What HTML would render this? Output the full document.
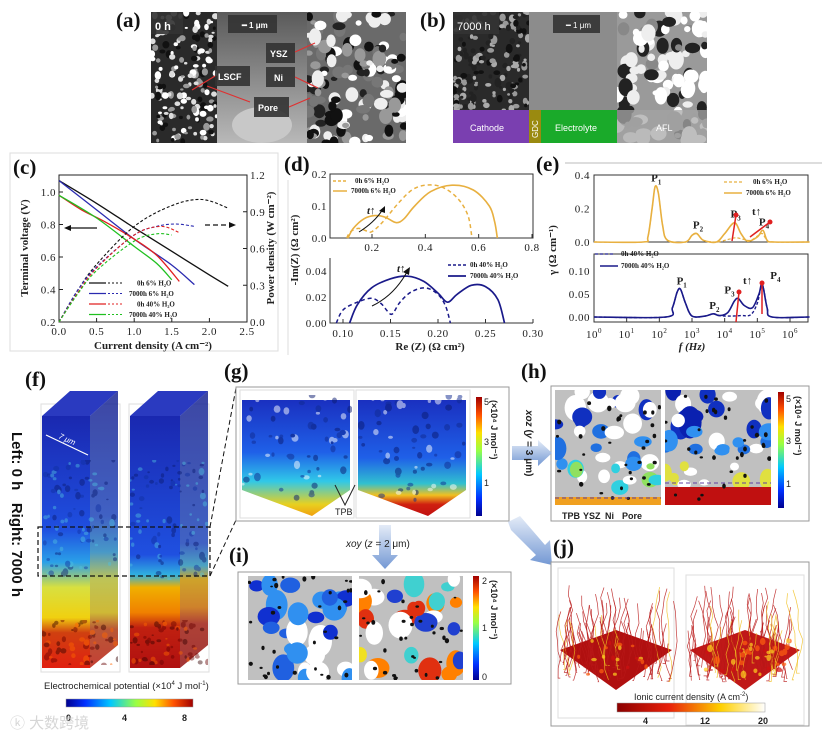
<!DOCTYPE html>
<html><head><meta charset="utf-8">
<style>
html,body{margin:0;padding:0;background:#fff;}
#root{position:relative;width:822px;height:734px;overflow:hidden;background:#fff;}
svg{position:absolute;left:0;top:0;}
text{font-family:"Liberation Serif",serif;}
.lbl{font-family:"Liberation Serif",serif;font-weight:bold;font-size:21px;fill:#111;}
.tk{font-family:"Liberation Serif",serif;font-size:11px;fill:#222;letter-spacing:0.5px;}
.ax{font-family:"Liberation Serif",serif;font-weight:bold;font-size:11px;fill:#222;}
.lg{font-family:"Liberation Serif",serif;font-weight:bold;font-size:7px;fill:#222;}
.sn{font-family:"Liberation Sans",sans-serif;font-size:9px;fill:#222;}
</style></head>
<body>
<div id="root">
<svg id="s" width="822" height="734" viewBox="0 0 822 734">
<defs>
 <linearGradient id="jet" x1="0" x2="1" y1="0" y2="0">
  <stop offset="0" stop-color="#00008f"/><stop offset="0.15" stop-color="#0030ff"/><stop offset="0.35" stop-color="#00c8ff"/><stop offset="0.55" stop-color="#9f4"/><stop offset="0.7" stop-color="#ffe000"/><stop offset="0.85" stop-color="#ff5000"/><stop offset="1" stop-color="#a00000"/>
 </linearGradient>
 <linearGradient id="jetv" x1="0" x2="0" y1="1" y2="0">
  <stop offset="0" stop-color="#00008f"/><stop offset="0.15" stop-color="#0030ff"/><stop offset="0.35" stop-color="#00c8ff"/><stop offset="0.55" stop-color="#9f4"/><stop offset="0.7" stop-color="#ffe000"/><stop offset="0.85" stop-color="#ff5000"/><stop offset="1" stop-color="#a00000"/>
 </linearGradient>
 <linearGradient id="heat" x1="0" x2="1">
  <stop offset="0" stop-color="#8b0000"/><stop offset="0.35" stop-color="#e8200a"/><stop offset="0.7" stop-color="#ffd000"/><stop offset="1" stop-color="#ffffff"/>
 </linearGradient>
 <linearGradient id="fL" x1="0" x2="0" y1="0" y2="1">
  <stop offset="0" stop-color="#1a28b0"/><stop offset="0.45" stop-color="#1f4fe0"/><stop offset="0.58" stop-color="#2aa0e8"/><stop offset="0.68" stop-color="#d8e040"/><stop offset="0.8" stop-color="#f0d010"/><stop offset="0.86" stop-color="#d04010"/><stop offset="1" stop-color="#e02010"/>
 </linearGradient>
 <linearGradient id="fR" x1="0" x2="0" y1="0" y2="1">
  <stop offset="0" stop-color="#1a28b0"/><stop offset="0.55" stop-color="#1f50e0"/><stop offset="0.63" stop-color="#30b0e0"/><stop offset="0.68" stop-color="#f0b000"/><stop offset="0.78" stop-color="#f08000"/><stop offset="0.84" stop-color="#c02010"/><stop offset="1" stop-color="#b01010"/>
 </linearGradient>
 <linearGradient id="gL" x1="0" x2="0" y1="0" y2="1">
  <stop offset="0" stop-color="#1a30c0"/><stop offset="0.45" stop-color="#1f60e8"/><stop offset="0.7" stop-color="#30c8e8"/><stop offset="0.9" stop-color="#e8d020"/><stop offset="1" stop-color="#f0a010"/>
 </linearGradient>
 <linearGradient id="gR" x1="0" x2="0" y1="0" y2="1">
  <stop offset="0" stop-color="#1a30c0"/><stop offset="0.5" stop-color="#1f60e8"/><stop offset="0.72" stop-color="#30c0d0"/><stop offset="0.82" stop-color="#f0c020"/><stop offset="0.9" stop-color="#d02010"/><stop offset="1" stop-color="#c01010"/>
 </linearGradient>
 <linearGradient id="grey" x1="0" x2="0" y1="0" y2="1">
  <stop offset="0" stop-color="#5a5a5a"/><stop offset="0.5" stop-color="#8a8a8a"/><stop offset="1" stop-color="#b8b8b8"/>
 </linearGradient>
 <linearGradient id="arrowg" x1="0" x2="0" y1="0" y2="1">
  <stop offset="0" stop-color="#dfe8f6"/><stop offset="1" stop-color="#5b86cc"/>
 </linearGradient>
</defs>

<text class="lbl" x="116" y="27">(a)</text>
<g id="imgA">
 <rect x="151" y="12" width="255" height="131" fill="url(#grey)"/>
 <rect x="151" y="12" width="66" height="131" fill="#2a2a2a"/>
 <rect x="307" y="12" width="99" height="131" fill="#6a6a6a"/>
</g>
<text class="lbl" x="420" y="27">(b)</text>
<g id="imgB">
 <rect x="453" y="12" width="254" height="131" fill="#8a8a8a"/>
 <rect x="453" y="12" width="76" height="98" fill="#2a2a2a"/>
 <rect x="529" y="12" width="88" height="98" fill="#8c8c8c"/>
 <rect x="617" y="12" width="90" height="98" fill="#9a9a9a"/>
</g>

<rect x="10" y="153" width="268" height="198" fill="none" stroke="#ddd" stroke-width="1"/>
<line x1="565" y1="163" x2="822" y2="163" stroke="#bbb"/>
<line x1="288" y1="180" x2="288" y2="355" stroke="#ddd"/>
<g id="chartC"></g>
<g id="chartD"></g>
<g id="chartE"></g>

<text class="lbl" x="25" y="386">(f)</text>
<g id="panelF"></g>
<text transform="translate(12,432) rotate(90)" style="font-family:'Liberation Sans',sans-serif;font-weight:bold;font-size:15px" fill="#111">Left: 0 h&#160;&#160;&#160;Right: 7000 h</text>
<rect x="38" y="527" width="172" height="49" fill="none" stroke="#111" stroke-dasharray="5,3" stroke-width="1.2"/>
<line x1="210" y1="527" x2="236" y2="388" stroke="#111" stroke-dasharray="5,3"/>
<line x1="210" y1="576" x2="236" y2="520" stroke="#111" stroke-dasharray="5,3"/>
<text x="44" y="689" style="font-family:'Liberation Sans',sans-serif;font-size:9.5px" fill="#222">Electrochemical potential (×10<tspan font-size="6" dy="-4">4</tspan><tspan dy="4"> J mol</tspan><tspan font-size="6" dy="-4">-1</tspan><tspan dy="4">)</tspan></text>
<rect x="66" y="699" width="127" height="8" fill="url(#jet)" stroke="#999" stroke-width="0.5"/>
<text class="sn" x="66" y="721" font-weight="bold">0</text>
<text class="sn" x="122" y="721" font-weight="bold">4</text>
<text class="sn" x="182" y="721" font-weight="bold">8</text>
<text x="10" y="728" style="font-family:'Liberation Sans','Noto Sans CJK SC',sans-serif;font-size:15px" fill="#ccc" opacity="0.8">ⓚ 大数跨境</text>

<text class="lbl" x="224" y="378">(g)</text>
<rect x="236" y="387" width="273" height="134" fill="#fff" stroke="#999"/>
<g id="panelG"></g>

<text class="lbl" x="521" y="378">(h)</text>
<rect x="551" y="386" width="258" height="135" fill="#fff" stroke="#999"/>
<g id="panelH"></g>
<polygon points="512,446 538,446 538,440 552,453 538,466 538,460 512,460" fill="url(#arrowg)" opacity="0.85"/>
<text transform="translate(526,410) rotate(90)" style="font-family:'Liberation Sans',sans-serif;font-size:10px;font-weight:bold" fill="#222"><tspan font-style="italic">xoz</tspan> (<tspan font-style="italic">y</tspan> = 3 μm)</text>
<g>
 <text class="sn" x="562" y="519" font-weight="bold">TPB</text>
 <text class="sn" x="583" y="519" font-weight="bold">YSZ</text>
 <text class="sn" x="605" y="519" font-weight="bold">Ni</text>
 <text class="sn" x="622" y="519" font-weight="bold">Pore</text>
</g>

<text class="lbl" x="229" y="562">(i)</text>
<rect x="238" y="572" width="273" height="112" fill="#fff" stroke="#999"/>
<g id="panelI"></g>
<polygon points="379,525 391,525 391,555 398,555 385,569 372,555 379,555" fill="url(#arrowg)" opacity="0.85"/>
<text x="346" y="547" style="font-family:'Liberation Sans',sans-serif;font-size:10px" fill="#222"><tspan font-style="italic">xoy</tspan> (<tspan font-style="italic">z</tspan> = 2 μm)</text>

<text class="lbl" x="553" y="554">(j)</text>
<polygon points="508,522 520,516 545,545 550,540 552,565 530,560 536,555 511,530" fill="url(#arrowg)" opacity="0.85"/>
<rect x="551" y="562" width="258" height="164" fill="#fff" stroke="#999"/>
<g id="panelJ"></g>
<text x="634" y="700" style="font-family:'Liberation Sans',sans-serif;font-size:9px" fill="#222">Ionic current density (A cm<tspan font-size="6" dy="-4">-2</tspan><tspan dy="4">)</tspan></text>
<rect x="617" y="703" width="148" height="9" fill="url(#heat)" stroke="#999" stroke-width="0.5"/>
<text class="sn" x="643" y="724" font-weight="bold">4</text>
<text class="sn" x="700" y="724" font-weight="bold">12</text>
<text class="sn" x="758" y="724" font-weight="bold">20</text>
</svg>
</div>
<script>
// ---------------- chart data (c) ----------------
const cV_0h6 = [[0,1.07],[0.5,0.93],[1.0,0.78],[1.5,0.635],[2.0,0.49],[2.25,0.42]];
const cV_7k6 = [[0,1.07],[0.5,0.89],[1.0,0.71],[1.5,0.55],[1.8,0.43]];
const cV_0h40 = [[0,0.98],[0.3,0.89],[0.6,0.82],[1.0,0.71],[1.3,0.61],[1.6,0.45]];
const cV_7k40 = [[0,0.98],[0.5,0.84],[1.0,0.665],[1.3,0.56],[1.5,0.46]];
const cP_0h6 = [[0,0],[0.25,0.26],[0.5,0.47],[1.0,0.78],[1.5,0.95],[1.9,1.0],[2.25,0.93]];
const cP_7k6 = [[0,0],[0.25,0.26],[0.5,0.45],[1.0,0.71],[1.3,0.78],[1.55,0.8],[1.8,0.78]];
const cP_0h40 = [[0,0],[0.25,0.24],[0.5,0.44],[1.0,0.71],[1.35,0.78],[1.6,0.73]];
const cP_7k40 = [[0,0],[0.25,0.23],[0.5,0.42],[1.0,0.66],[1.3,0.72],[1.5,0.71]];
const cXTicks = [0,0.5,1.0,1.5,2.0,2.5];
const cVTicks = [0.2,0.4,0.6,0.8,1.0];
const cPTicks = [0.0,0.3,0.6,0.9,1.2];
const cLegend = ["0h 6% H₂O","7000h 6% H₂O","0h 40% H₂O","7000h 40% H₂O"];
const cColors = ["#111","#2a2ab0","#e02020","#20c020"];
// ---------------- chart data (d) ----------------
const dTop_0h = [[0.105,0],[0.12,0.02],[0.15,0.03],[0.18,0.022],[0.2,0.02],[0.24,0.05],[0.3,0.11],[0.35,0.15],[0.4,0.165],[0.46,0.16],[0.52,0.125],[0.56,0.07],[0.575,0]];
const dTop_7k = [[0.11,0],[0.13,0.03],[0.17,0.06],[0.21,0.07],[0.25,0.065],[0.29,0.048],[0.32,0.06],[0.36,0.1],[0.42,0.145],[0.5,0.165],[0.58,0.15],[0.64,0.1],[0.66,0.05],[0.67,0]];
const dBot_0h = [[0.093,0],[0.1,0.01],[0.115,0.016],[0.13,0.019],[0.14,0.015],[0.147,0.009],[0.152,0.007],[0.16,0.016],[0.172,0.024],[0.187,0.027],[0.2,0.022],[0.208,0.013],[0.213,0]];
const dBot_7k = [[0.107,0],[0.115,0.014],[0.13,0.027],[0.15,0.034],[0.168,0.036],[0.185,0.032],[0.2,0.023],[0.21,0.016],[0.22,0.022],[0.235,0.029],[0.25,0.028],[0.263,0.018],[0.27,0]];
const dTopXTicks = [0.2,0.4,0.6,0.8];
const dTopYTicks = [0.0,0.1,0.2];
const dBotXTicks = [0.10,0.15,0.20,0.25,0.30];
const dBotYTicks = [0.00,0.02,0.04];
// ---------------- chart data (e) (x = log10 f) ----------------
const eTop_7k = [[0,0],[1.5,0],[1.65,0.03],[1.78,0.2],[1.87,0.33],[1.97,0.29],[2.1,0.1],[2.25,0.01],[2.8,0],[3.0,0.04],[3.15,0.05],[3.35,0.01],[3.75,0],[4.0,0.05],[4.3,0.115],[4.5,0.05],[4.7,0.005],[5.0,0.03],[5.17,0.07],[5.3,0.01],[5.5,0],[6.6,0]];
const eTop_0h = [[0,0],[1.5,0],[1.65,0.03],[1.78,0.2],[1.87,0.33],[1.97,0.29],[2.1,0.1],[2.25,0.01],[2.8,0],[3.0,0.04],[3.15,0.05],[3.35,0.01],[3.75,0],[4.1,0.015],[4.35,0.025],[4.6,0.015],[4.8,0.01],[5.0,0.035],[5.15,0.05],[5.3,0.01],[5.5,0],[6.6,0]];
const eBot_7k = [[0,0],[2.2,0],[2.4,0.02],[2.55,0.055],[2.65,0.06],[2.8,0.03],[3.0,0.002],[3.4,0.002],[3.65,0.007],[3.85,0.003],[4.1,0.01],[4.3,0.035],[4.42,0.04],[4.6,0.025],[4.85,0.02],[5.05,0.05],[5.15,0.072],[5.3,0.02],[5.45,0],[6.6,0]];
const eBot_0h = [[0,0],[2.2,0],[2.4,0.02],[2.55,0.055],[2.65,0.06],[2.8,0.03],[3.0,0.002],[3.4,0.002],[3.65,0.007],[3.85,0.003],[4.1,0.002],[4.5,0.003],[4.8,0.005],[5.0,0.03],[5.15,0.07],[5.3,0.02],[5.45,0],[6.6,0]];
const eXTicks = [0,1,2,3,4,5,6];
const eTopYTicks = [0.0,0.2,0.4];
const eBotYTicks = [0.00,0.05,0.10];
const ePeaksTop = [["1",1.87,0.33],["2",3.15,0.05],["3",4.3,0.115],["4",5.17,0.07]];
const ePeaksBot = [["1",2.65,0.06],["2",3.65,0.007],["3",4.42,0.04],["4",5.15,0.072]];

const NS="http://www.w3.org/2000/svg";
function mk(parent,tag,attrs){const e=document.createElementNS(NS,tag);for(const k in attrs)e.setAttribute(k,attrs[k]);parent.appendChild(e);return e;}
function lin(d0,d1,r0,r1){return v=>r0+(v-d0)*(r1-r0)/(d1-d0);}
function smooth(pts,sx,sy){
  const p=pts.map(q=>[sx(q[0]),sy(q[1])]);
  let d="M"+p[0][0].toFixed(1)+","+p[0][1].toFixed(1);
  for(let i=0;i<p.length-1;i++){
    const p0=p[i-1]||p[i],p1=p[i],p2=p[i+1],p3=p[i+2]||p2;
    const c1=[p1[0]+(p2[0]-p0[0])/6,p1[1]+(p2[1]-p0[1])/6];
    const c2=[p2[0]-(p3[0]-p1[0])/6,p2[1]-(p3[1]-p1[1])/6];
    d+=" C"+c1.map(v=>v.toFixed(1))+" "+c2.map(v=>v.toFixed(1))+" "+p2[0].toFixed(1)+","+p2[1].toFixed(1);
  }
  return d;
}
function txt(parent,x,y,s,cls,anchor){const t=mk(parent,"text",{x:x,y:y,class:cls,"text-anchor":anchor||"start"});t.textContent=s;return t;}

// ---------- chart (c) ----------
(function(){
 const g=document.getElementById("chartC");
 const X=lin(0,2.5,59,247), V=lin(0.2,1.0,322,192), P=lin(0,1.2,322,175);
 txt(g,13,174,"(c)","lbl");
 const frame=mk(g,"rect",{x:59,y:175,width:188,height:147,fill:"none",stroke:"#222","stroke-width":1});
 
 
 cXTicks.forEach(v=>{mk(g,"line",{x1:X(v),x2:X(v),y1:322,y2:318,stroke:"#222"});const t=txt(g,X(v),335,v.toFixed(1),"tk","middle");});
 cVTicks.forEach(v=>{mk(g,"line",{x1:59,x2:63,y1:V(v),y2:V(v),stroke:"#222"});const t=txt(g,56,V(v)+4,v.toFixed(1),"tk","end");});
 cPTicks.forEach(v=>{mk(g,"line",{x1:243,x2:247,y1:P(v),y2:P(v),stroke:"#222"});const t=txt(g,250,P(v)+4,v.toFixed(1),"tk","start");});
 const xt=txt(g,153,349,"Current density (A cm⁻²)","ax","middle");
 
 const yt=mk(g,"text",{transform:"translate(28,248) rotate(-90)",class:"ax","text-anchor":"middle"});yt.textContent="Terminal voltage (V)";
 
 const yt2=mk(g,"text",{transform:"translate(274,248) rotate(-90)",class:"ax","text-anchor":"middle"});yt2.textContent="Power density (W cm⁻²)";
 
 const Vs=[cV_0h6,cV_7k6,cV_0h40,cV_7k40], Ps=[cP_0h6,cP_7k6,cP_0h40,cP_7k40];
 Vs.forEach((s,i)=>{const p=mk(g,"path",{d:smooth(s,X,V),fill:"none",stroke:cColors[i],"stroke-width":1.3});});
 Ps.forEach((s,i)=>{const p=mk(g,"path",{d:smooth(s,X,P),fill:"none",stroke:cColors[i],"stroke-width":1.1,"stroke-dasharray":"3,2"});});
 mk(g,"line",{x1:97,y1:228,x2:68,y2:228,stroke:"#111","stroke-width":1.2});
 mk(g,"polygon",{points:"64,228 71,225 71,231",fill:"#111"});
 mk(g,"line",{x1:205,y1:225,x2:230,y2:225,stroke:"#111","stroke-width":1.2,"stroke-dasharray":"5,3"});
 mk(g,"polygon",{points:"236,225 229,222 229,228",fill:"#111"});
 cLegend.forEach((s,i)=>{const y=283+i*10.5;mk(g,"line",{x1:89,x2:106,y1:y,y2:y,stroke:cColors[i],"stroke-width":1.3});mk(g,"line",{x1:108,x2:122,y1:y,y2:y,stroke:cColors[i],"stroke-width":1.1,"stroke-dasharray":"2,2"});const t=txt(g,i%2?129:137,y+2.5,s,"lg");});
})();

// ---------- chart (d) ----------
(function(){
 const g=document.getElementById("chartD");
 txt(g,284,171,"(d)","lbl");
 const XT=lin(0.2,0.8,372,532), YT=lin(0,0.2,238,174);
 const XB=lin(0.10,0.30,343,533), YB=lin(0,0.04,323,271);
 mk(g,"rect",{x:330,y:174,width:203,height:64,fill:"none",stroke:"#333"});
 mk(g,"polyline",{points:"330,258 330,323 533,323",fill:"none",stroke:"#333"});
 dTopXTicks.forEach(v=>{mk(g,"line",{x1:XT(v),x2:XT(v),y1:238,y2:234,stroke:"#333"});const t=txt(g,XT(v),251,v.toFixed(1),"tk","middle");});
 dTopYTicks.forEach(v=>{const t=txt(g,327,YT(v)+4,v.toFixed(1),"tk","end");});
 dBotXTicks.forEach(v=>{mk(g,"line",{x1:XB(v),x2:XB(v),y1:323,y2:319,stroke:"#333"});const t=txt(g,XB(v),337,v.toFixed(2),"tk","middle");});
 dBotYTicks.forEach(v=>{const t=txt(g,327,YB(v)+4,v.toFixed(2),"tk","end");});
 const gold="#e8b040", navy="#1a1a8a";
 let p;
 p=mk(g,"path",{d:smooth(dTop_0h,XT,YT),fill:"none",stroke:gold,"stroke-width":1.5,"stroke-dasharray":"4,3"});
 p=mk(g,"path",{d:smooth(dTop_7k,XT,YT),fill:"none",stroke:gold,"stroke-width":1.6});
 p=mk(g,"path",{d:smooth(dBot_0h,XB,YB),fill:"none",stroke:navy,"stroke-width":1.5,"stroke-dasharray":"4,3"});
 p=mk(g,"path",{d:smooth(dBot_7k,XB,YB),fill:"none",stroke:navy,"stroke-width":1.7});
 mk(g,"path",{d:"M359,232 Q375,222 383,209",fill:"none",stroke:"#111"});mk(g,"polygon",{points:"385,206 379,211 385,213",fill:"#111"});
 txt(g,367,214,"t↑","ax").setAttribute("font-style","italic");
 mk(g,"path",{d:"M372,306 Q395,295 408,270",fill:"none",stroke:"#111"});mk(g,"polygon",{points:"410,267 403,272 409,275",fill:"#111"});
 txt(g,397,272,"t↑","ax").setAttribute("font-style","italic");
 mk(g,"line",{x1:333,x2:347,y1:181,y2:181,stroke:gold,"stroke-width":1.5,"stroke-dasharray":"3,2"});txt(g,355,183,"0h 6% H₂O","lg");
 mk(g,"line",{x1:333,x2:347,y1:191,y2:191,stroke:gold,"stroke-width":1.5});txt(g,351,193,"7000h 6% H₂O","lg");
 mk(g,"line",{x1:448,x2:466,y1:265,y2:265,stroke:navy,"stroke-width":1.5,"stroke-dasharray":"3,2"});txt(g,470,267,"0h 40% H₂O","lg");
 mk(g,"line",{x1:448,x2:466,y1:276,y2:276,stroke:navy,"stroke-width":1.8});txt(g,470,278,"7000h 40% H₂O","lg");
 const yt=mk(g,"text",{transform:"translate(298,250) rotate(-90)",class:"ax","text-anchor":"middle"});yt.textContent="-Im(Z) (Ω cm²)";
 
 const xt=txt(g,430,350,"Re (Z) (Ω cm²)","ax","middle");
 
})();

// ---------- chart (e) ----------
(function(){
 const g=document.getElementById("chartE");
 txt(g,536,171,"(e)","lbl");
 const X=lin(0,6,594,790), YT=lin(0,0.4,242,175), YB=lin(0,0.10,317,271);
 mk(g,"rect",{x:594,y:175,width:214,height:67,fill:"none",stroke:"#333"});
 mk(g,"rect",{x:594,y:254,width:214,height:68,fill:"none",stroke:"#333"});
 eXTicks.forEach(v=>{mk(g,"line",{x1:X(v),x2:X(v),y1:322,y2:318,stroke:"#333"});const t=mk(g,"text",{x:X(v),y:338,class:"tk","text-anchor":"middle"});t.innerHTML="10<tspan font-size='7' dy='-5'>"+v+"</tspan>";});
 eTopYTicks.forEach(v=>{const t=txt(g,590,YT(v)+4,v.toFixed(1),"tk","end");});
 eBotYTicks.forEach(v=>{const t=txt(g,590,YB(v)+4,v.toFixed(2),"tk","end");});
 const gold="#e8b040", navy="#1a1a8a";
 let p;
 p=mk(g,"path",{d:smooth(eTop_0h,X,YT),fill:"none",stroke:gold,"stroke-width":1.2,"stroke-dasharray":"3,2"});
 p=mk(g,"path",{d:smooth(eTop_7k,X,YT),fill:"none",stroke:gold,"stroke-width":1.6});
 p=mk(g,"path",{d:smooth(eBot_0h,X,YB),fill:"none",stroke:navy,"stroke-width":1.4,"stroke-dasharray":"3,2"});
 p=mk(g,"path",{d:smooth(eBot_7k,X,YB),fill:"none",stroke:navy,"stroke-width":1.6});
 ePeaksTop.forEach(q=>{const t=mk(g,"text",{x:X(q[1])-4,y:YT(q[2])-5,class:"ax"});t.innerHTML="P<tspan font-size='7' dy='3'>"+q[0]+"</tspan>";});
 ePeaksBot.forEach(q=>{const t=mk(g,"text",{x:X(q[1])-(q[0]=="3"?14:(q[0]=="4"?-8:4)),y:YB(q[2])-5,class:"ax"});t.innerHTML="P<tspan font-size='7' dy='3'>"+q[0]+"</tspan>";});
 const red="#e02020";
 [[732,241,736,215],[750,237,770,222],[736,322,739,292],[762,314,762,283]].forEach(a=>{mk(g,"line",{x1:a[0],y1:a[1],x2:a[2],y2:a[3],stroke:red,"stroke-width":1.5});mk(g,"circle",{cx:a[2],cy:a[3],r:2.5,fill:red});});
 txt(g,752,215,"t↑","ax").setAttribute("fill",red);
 txt(g,743,284,"t↑","ax").setAttribute("fill",red);
 mk(g,"line",{x1:724,x2:742,y1:182,y2:182,stroke:gold,"stroke-width":1.2,"stroke-dasharray":"3,2"});txt(g,753,184,"0h 6% H₂O","lg");
 mk(g,"line",{x1:724,x2:742,y1:193,y2:193,stroke:gold,"stroke-width":1.5});txt(g,746,195,"7000h 6% H₂O","lg");
 mk(g,"line",{x1:595,x2:615,y1:254,y2:254,stroke:navy,"stroke-width":1.3,"stroke-dasharray":"3,2"});txt(g,621,256,"0h 40% H₂O","lg");
 mk(g,"line",{x1:600,x2:618,y1:266,y2:266,stroke:navy,"stroke-width":1.5});txt(g,621,268,"7000h 40% H₂O","lg");
 const yt=mk(g,"text",{transform:"translate(556,250) rotate(-90)",class:"ax","text-anchor":"middle"});yt.textContent="γ (Ω cm⁻¹)";
 
 const xt=txt(g,692,350,"f (Hz)","ax","middle");xt.setAttribute("font-style","italic");
 
})();

// ---------- textures (deterministic) ----------
let seed=12345;
function rnd(){seed=(seed*1103515245+12345)%2147483648;return seed/2147483648;}
function blobs(g,x,y,w,h,n,cols,rmin,rmax){
 for(let i=0;i<n;i++){const r=rmin+rnd()*(rmax-rmin);
  mk(g,"ellipse",{cx:(x+rnd()*w).toFixed(1),cy:(y+rnd()*h).toFixed(1),rx:r.toFixed(1),ry:(r*(0.6+rnd()*0.8)).toFixed(1),fill:cols[Math.floor(rnd()*cols.length)]});}
}
function clip(id,x,y,w,h){const d=document.querySelector("defs");const c=mk(d,"clipPath",{id:id});mk(c,"rect",{x:x,y:y,width:w,height:h});return "url(#"+id+")";}
(function(){
 const g=document.getElementById("imgA");
 const gl=mk(g,"g",{"clip-path":clip("ca1",151,12,66,131)});
 blobs(gl,151,12,66,131,170,["#fff","#ddd","#999","#111"],1.5,3.5);
 const gr=mk(g,"g",{"clip-path":clip("ca2",307,12,99,131)});
 blobs(gr,307,12,99,131,140,["#fff","#eee","#999","#777","#111","#222"],3,7);
 mk(g,"ellipse",{cx:262,cy:125,rx:30,ry:18,fill:"#c8c8c8"});
 [["0 h",151,12,32,22],["",228,15,49,18],["YSZ",266,43,29,20],["LSCF",215,66,35,20],["Ni",266,67,29,20],["Pore",254,97,35,20]].forEach(b=>{
  mk(g,"rect",{x:b[1],y:b[2],width:b[3],height:b[4],fill:"#333",opacity:0.9});
 });
 [[155,30,"0 h",11],[242,28,"━ 1 μm",8],[270,57,"YSZ",9],[218,80,"LSCF",9],[274,81,"Ni",9],[258,111,"Pore",9]].forEach(t=>{
  const e=mk(g,"text",{x:t[0],y:t[1],fill:"#fff",style:"font-family:'Liberation Sans',sans-serif;font-size:"+t[3]+"px;font-weight:bold"});e.textContent=t[2];
  });
 [[215,76,192,90],[250,102,207,86],[289,107,310,98],[295,77,318,88],[295,52,315,43]].forEach(l=>mk(g,"line",{x1:l[0],y1:l[1],x2:l[2],y2:l[3],stroke:"#e03030","stroke-width":1.2}));
})();
(function(){
 const g=document.getElementById("imgB");
 const gl=mk(g,"g",{"clip-path":clip("cb1",453,12,76,98)});
 blobs(gl,453,12,76,98,170,["#aaa","#999","#111","#222"],1.5,3.5);
 const gr=mk(g,"g",{"clip-path":clip("cb2",617,12,90,131)});
 blobs(gr,617,12,90,131,110,["#fff","#fff","#eee","#888","#222"],3,8);
 mk(g,"rect",{x:453,y:110,width:76,height:33,fill:"#7a3fb0"});
 mk(g,"rect",{x:529,y:110,width:12,height:33,fill:"#9a8a10"});
 mk(g,"rect",{x:541,y:110,width:76,height:33,fill:"#1aaa2a"});
 mk(g,"rect",{x:617,y:110,width:90,height:33,fill:"#a8a8a8",opacity:0.75});
 mk(g,"rect",{x:453,y:12,width:46,height:22,fill:"#333",opacity:0.9});
 mk(g,"rect",{x:553,y:15,width:47,height:18,fill:"#333",opacity:0.9});
 [[457,30,"7000 h",11],[566,28,"━ 1 μm",8],[470,131,"Cathode",9],[656,131,"AFL",9],[555,131,"Electrolyte",9]].forEach(t=>{
  const e=mk(g,"text",{x:t[0],y:t[1],fill:"#fff",style:"font-family:'Liberation Sans',sans-serif;font-size:"+t[3]+"px"});e.textContent=t[2];
  });
 const e=mk(g,"text",{transform:"translate(538,138) rotate(-90)",fill:"#fff",style:"font-family:'Liberation Sans',sans-serif;font-size:8px"});e.textContent="GDC";
 
})();
(function(){
 const g=document.getElementById("panelF");
 [[42,90,118,"fL",41,120],[130,180,208,"fR",129,209]].forEach(c=>{
  const [x0,x1,x2,gr,bx0,bx1]=c;
  mk(g,"rect",{x:bx0,y:404,width:bx1-bx0,height:268,fill:"none",stroke:"#ddd"});
  mk(g,"polygon",{points:`${x0},416 ${x0+28},391 ${x2},391 ${x1},416`,fill:"#2a3ac0"});
  mk(g,"rect",{x:x0,y:416,width:x1-x0,height:252,fill:"url(#"+gr+")"});
  mk(g,"polygon",{points:`${x1},416 ${x2},391 ${x2},645 ${x1},668`,fill:"url(#"+gr+")",opacity:0.8});
  mk(g,"polygon",{points:`${x1},416 ${x2},391 ${x2},645 ${x1},668`,fill:"#000",opacity:0.15});
  const cl=mk(g,"g",{"clip-path":clip("cf"+x0,x0,460,x2-x0,120),opacity:0.45});
  blobs(cl,x0,460,x2-x0,120,90,["#0a1a70","#1030a0","#50c0e0"],1.2,3);
  const cl2=mk(g,"g",{"clip-path":clip("cg"+x0,x0,620,x2-x0,45),opacity:0.45});
  blobs(cl2,x0,620,x2-x0,45,60,["#600","#300","#f60"],1.2,3);
 });
 mk(g,"line",{x1:46,y1:435,x2:88,y2:455,stroke:"#fff","stroke-width":1.2});
 const t=mk(g,"text",{x:58,y:438,fill:"#fff",transform:"rotate(25,58,438)",style:"font-family:'Liberation Sans',sans-serif;font-size:8px;font-style:italic"});t.textContent="7 μm";
 
})();
(function(){
 const g=document.getElementById("panelG");
 [[242,"gL"],[358,"gR"]].forEach(c=>{
  const x=c[0];
  mk(g,"rect",{x:x-2,y:390,width:114,height:128,fill:"none",stroke:"#ddd"});
  mk(g,"polygon",{points:`${x},400 ${x+108},400 ${x+108},490 ${x+70},516 ${x},490`,fill:"url(#"+c[1]+")"});
  const cl=mk(g,"g",{"clip-path":clip("cgg"+x,x,395,110,120),opacity:0.5});
  blobs(cl,x,395,108,105,60,["#0a1a70","#102a90","#fff"],1.5,3.5);
 });
 mk(g,"rect",{x:476,y:397,width:6,height:119,fill:"url(#jetv)"});
 [["5",405],["3",445],["1",486]].forEach(v=>{const t=mk(g,"text",{x:484,y:v[1],class:"sn"});t.textContent=v[0];});
 const u=mk(g,"text",{transform:"translate(491,400) rotate(90)",class:"sn","font-weight":"bold"});u.textContent="(×10⁴ J mol⁻¹)";
 
 mk(g,"polyline",{points:"335,485 345,505 355,485",fill:"none",stroke:"#222"});
 const tp=txt(g,335,515,"TPB","sn");
})();
(function(){
 const g=document.getElementById("panelH");
 [[555,"hl"],[665,"hr"]].forEach((c,i)=>{
  const x=c[0];
  mk(g,"rect",{x:x,y:390,width:106,height:115,fill:"#c0c0c0"});
  const cl=mk(g,"g",{"clip-path":clip(c[1],x,390,106,115)});
  blobs(cl,x,390,106,40,14,["#1030c0","#0a20b0","#fff"],6,12);
  blobs(cl,x,430,106,35,12,["#2070e0","#fff","#3090f0"],5,10);
  blobs(cl,x,465,106,25,10,i?["#e0e040","#fff"]:["#30d0e0","#90e060","#fff"],4,9);
  mk(cl,"rect",{x:x,y:i?487:497,width:106,height:i?18:8,fill:i?"#c01010":"#f0a020"});
  blobs(cl,x,395,106,105,32,["#111"],1.5,2.2);
  mk(g,"line",{x1:x,x2:x+106,y1:i?483:498,y2:i?483:498,stroke:"#6040a0","stroke-dasharray":"4,3"});
 });
 mk(g,"rect",{x:778,y:392,width:6,height:116,fill:"url(#jetv)"});
 [["5",402],["3",444],["1",487]].forEach(v=>{const t=mk(g,"text",{x:786,y:v[1],class:"sn"});t.textContent=v[0];});
 const u=mk(g,"text",{transform:"translate(795,396) rotate(90)",class:"sn","font-weight":"bold"});u.textContent="(×10⁴ J mol⁻¹)";
 
})();
(function(){
 const g=document.getElementById("panelI");
 [[248,"il"],[359,"ir"]].forEach((c,i)=>{
  const x=c[0];
  mk(g,"rect",{x:x,y:576,width:104,height:104,fill:"#c0c0c0"});
  const cl=mk(g,"g",{"clip-path":clip(c[1],x,576,104,104)});
  blobs(cl,x,576,104,104,28,i?["#f0e020","#ff8000","#40d0d0","#90e040","#fff","#e03010","#2040d0"]:["#1030d0","#2060e0","#fff","#3090f0"],6,12);
  blobs(cl,x,576,104,104,34,["#111"],1.4,2.2);
 });
 mk(g,"rect",{x:473,y:576,width:6,height:104,fill:"url(#jetv)"});
 [["2",584],["1",631],["0",680]].forEach(v=>{const t=mk(g,"text",{x:482,y:v[1],class:"sn"});t.textContent=v[0];});
 const u=mk(g,"text",{transform:"translate(491,580) rotate(90)",class:"sn","font-weight":"bold"});u.textContent="(×10⁴ J mol⁻¹)";
 
})();
(function(){
 const g=document.getElementById("panelJ");
 mk(g,"rect",{x:558,y:568,width:116,height:150,fill:"none",stroke:"#ddd"});
 mk(g,"rect",{x:686,y:575,width:118,height:150,fill:"none",stroke:"#ddd"});
 [[560,672,"#b01010"],[690,800,"#c01818"]].forEach((c,i)=>{
  const [a,b]=c, m=(a+b)/2;
  mk(g,"polygon",{points:`${a},650 ${m},630 ${b},650 ${m},690`,fill:c[2]});
  for(let k=0;k<70;k++){
   const x0=a+rnd()*(b-a), y0=660+rnd()*22, top=580+rnd()*60;
   let d="M"+x0.toFixed(1)+","+y0.toFixed(1), x=x0;
   for(let y=y0;y>top;y-=10){x+=(rnd()-0.5)*8;d+=" L"+x.toFixed(1)+","+y.toFixed(1);}
   mk(g,"path",{d:d,fill:"none",stroke:rnd()<(i?0.3:0.15)?"#f0c020":"#b81818","stroke-width":0.7,opacity:0.85});
  }
  const cl=mk(g,"g",{opacity:0.7});
  blobs(cl,a+10,640,b-a-20,35,i?40:20,["#ffd020","#ff6010","#d01010"],1.5,3);
 });
})();
</script>
</body></html>
